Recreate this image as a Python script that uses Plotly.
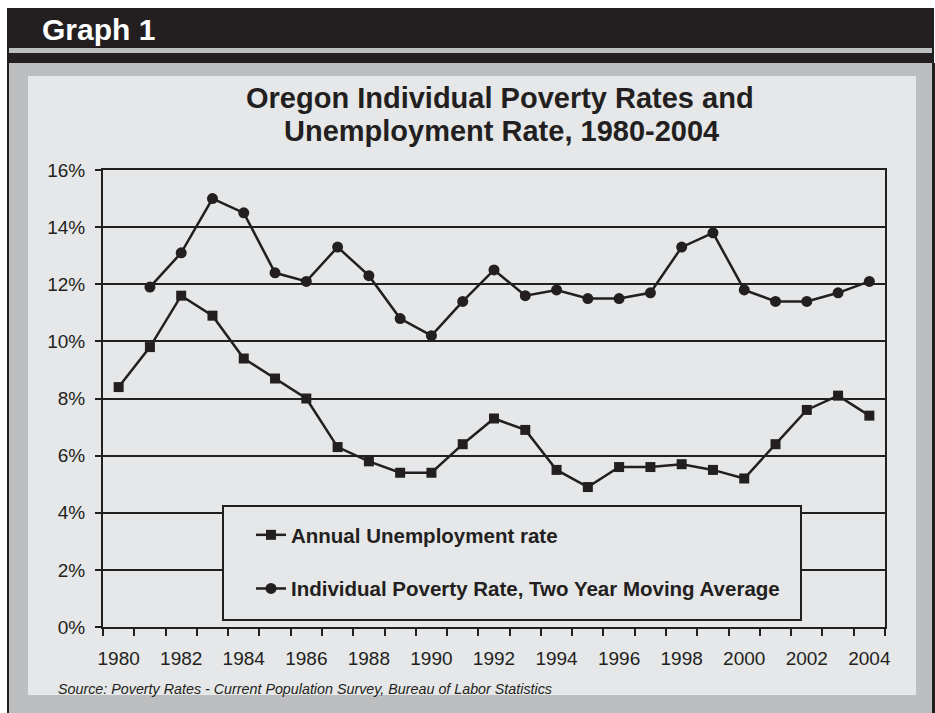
import plotly.graph_objects as go

# ---- data -------------------------------------------------------------
years = [1980, 1981, 1982, 1983, 1984, 1985, 1986, 1987, 1988, 1989, 1990, 1991,
         1992, 1993, 1994, 1995, 1996, 1997, 1998, 1999, 2000, 2001, 2002, 2003, 2004]
unemployment = [8.4, 9.8, 11.6, 10.9, 9.4, 8.7, 8.0, 6.3, 5.8, 5.4, 5.4, 6.4,
                7.3, 6.9, 5.5, 4.9, 5.6, 5.6, 5.7, 5.5, 5.2, 6.4, 7.6, 8.1, 7.4]
poverty_2yr_avg = [None, 11.9, 13.1, 15.0, 14.5, 12.4, 12.1, 13.3, 12.3, 10.8, 10.2, 11.4,
                   12.5, 11.6, 11.8, 11.5, 11.5, 11.7, 13.3, 13.8, 11.8, 11.4, 11.4, 11.7, 12.1]
y_ticks = [0, 2, 4, 6, 8, 10, 12, 14, 16]

year_labels = [str(y) for y in years]
x_ticktext = [str(y) if y % 2 == 0 else "" for y in years]
y_ticktext = [f"{v}%" for v in y_ticks]

# ---- page geometry ----------------------------------------------------
W, H = 935, 713
L, R, T, B = 103, 50, 170, 86
PW, PH = W - L - R, H - T - B

INK = "#231f20"
FRAME = "#bcbec0"
PANEL = "#e6e7e8"
FONT = "Liberation Sans"


def px(x):
    return (x - L) / PW


def py(y):
    return (H - B - y) / PH


fig = go.Figure()

fig.add_trace(go.Scatter(
    x=year_labels, y=unemployment, name="Annual Unemployment rate",
    mode="lines+markers", legendgroup="u",
    line=dict(color=INK, width=2.5),
    marker=dict(symbol="square", size=10, color=INK),
))
fig.add_trace(go.Scatter(
    x=year_labels, y=poverty_2yr_avg,
    name="Individual Poverty Rate, Two Year Moving Average",
    mode="lines+markers", legendgroup="p",
    line=dict(color=INK, width=2.5),
    marker=dict(symbol="circle", size=11, color=INK),
))

shapes = [
    # dark header band
    dict(type="rect", x0=px(7), x1=px(934), y0=py(8), y1=py(64),
         fillcolor=INK, line_width=0, layer="below"),
    dict(type="rect", x0=px(9), x1=px(932), y0=py(48), y1=py(53),
         fillcolor=FRAME, line_width=0, layer="below"),
    # grey frame with dark side rules
    dict(type="rect", x0=px(7), x1=px(935), y0=py(63), y1=py(713),
         fillcolor=INK, line_width=0, layer="below"),
    dict(type="rect", x0=px(9), x1=px(932), y0=py(63), y1=py(713),
         fillcolor=FRAME, line_width=0, layer="below"),
    # light chart panel
    dict(type="rect", x0=px(28), x1=px(916), y0=py(76), y1=py(695),
         fillcolor=PANEL, line_width=0, layer="below"),
    # legend box, masking the grid lines behind it
    dict(type="rect", x0=px(223), x1=px(801), y0=py(506), y1=py(620),
         fillcolor=PANEL, line=dict(color=INK, width=2), layer="above"),
]
for s in shapes:
    s.update(xref="paper", yref="paper")

annotations = [
    dict(text="Graph 1", x=px(40), y=py(29), xanchor="left", yanchor="middle",
         font=dict(family=FONT, size=30, color="white", weight="bold")),
    dict(text="Oregon Individual Poverty Rates and",
         x=px(500), y=py(98), xanchor="center", yanchor="middle",
         font=dict(family=FONT, size=29, color=INK, weight="bold")),
    dict(text="Unemployment Rate, 1980-2004",
         x=px(501), y=py(131), xanchor="center", yanchor="middle",
         font=dict(family=FONT, size=29, color=INK, weight="bold")),
    dict(text="Source: Poverty Rates - Current Population Survey, Bureau of Labor Statistics",
         x=px(56), y=py(689), xanchor="left", yanchor="middle",
         font=dict(family=FONT, size=14.3, color=INK, style="italic")),
]
for a in annotations:
    a.update(xref="paper", yref="paper", showarrow=False)

fig.update_layout(
    width=W, height=H,
    margin=dict(l=L, r=R, t=T, b=B, pad=0),
    paper_bgcolor="white",
    plot_bgcolor="rgba(0,0,0,0)",
    shapes=shapes,
    annotations=annotations,
    showlegend=True,
    legend=dict(
        x=px(223), y=py(515), xanchor="left", yanchor="top",
        bgcolor="rgba(0,0,0,0)", borderwidth=0,
        font=dict(family=FONT, size=20.5, color=INK, weight="bold"),
        tracegroupgap=24, indentation=28,
    ),
    xaxis=dict(
        type="category", range=[-0.5, len(years) - 0.5],
        tickmode="array", tickvals=year_labels, ticktext=x_ticktext, tickangle=0,
        tickson="boundaries", ticks="outside", ticklen=7, tickwidth=2, tickcolor=INK,
        showgrid=False, showline=True, linecolor=INK, linewidth=2, mirror=True,
        tickfont=dict(family=FONT, size=19, color=INK), ticklabelstandoff=13,
        fixedrange=True,
    ),
    yaxis=dict(
        range=[0, 16], tickmode="array", tickvals=y_ticks, ticktext=y_ticktext,
        ticks="outside", ticklen=6, tickwidth=2, tickcolor=INK,
        showgrid=True, gridcolor=INK, gridwidth=2, zeroline=False,
        showline=True, linecolor=INK, linewidth=2, mirror=True,
        tickfont=dict(family=FONT, size=19, color=INK), ticklabelstandoff=6,
        fixedrange=True,
    ),
)

fig.write_html("out.html", config={"displayModeBar": False})
